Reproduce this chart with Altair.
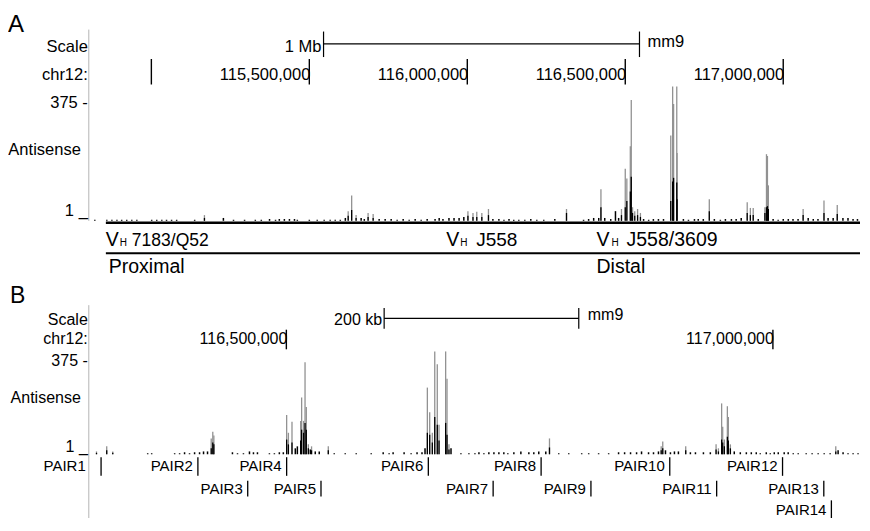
import altair as alt
import pandas as pd

# ------------------------------------------------------------------ data
# Panel A: chr12 114.80-117.24 Mb (mm9), antisense signal, 0-375 scale
a_peak_pos = [115.168, 115.623, 115.634, 115.648, 115.686, 115.702, 116.002, 116.018,
              116.030, 116.046, 116.067, 116.314, 116.423, 116.488, 116.500, 116.505,
              116.516, 116.519, 116.523, 116.530, 116.539, 116.548, 116.644, 116.650,
              116.653, 116.663, 116.664, 116.766, 116.886, 116.896, 116.905, 116.942,
              116.947, 116.950, 116.953, 117.063, 117.129, 117.171]
a_peak_max = [16, 27, 71, 16, 22, 19, 27, 22, 25, 22, 33, 33, 88, 33, 145, 118,
              208, 337, 38, 27, 33, 22, 238, 375, 326, 375, 189, 60, 52, 36, 36, 38,
              186, 181, 99, 33, 57, 44]
a_peak_mean = [8, 14, 30, 8, 11, 8, 14, 11, 11, 11, 16, 22, 38, 16, 38, 55,
               82, 123, 22, 14, 16, 11, 55, 110, 120, 107, 60, 27, 22, 16, 16, 22,
               38, 41, 33, 16, 22, 19]
a_noise_pos = [114.821, 114.859, 114.875, 114.891, 114.906, 114.922, 114.938, 114.954,
               115.001, 115.017, 115.033, 115.048, 115.064, 115.080, 115.137, 115.228,
               115.260, 115.295, 115.329, 115.348, 115.374, 115.393, 115.405, 115.421,
               115.437, 115.453, 115.462, 115.500, 115.525, 115.547, 115.566, 115.582,
               115.598, 115.614, 115.664, 115.674, 115.721, 115.740, 115.759, 115.778,
               115.797, 115.816, 115.835, 115.854, 115.873, 115.898, 115.911, 115.923,
               115.942, 115.958, 115.974, 115.989, 116.081, 116.100, 116.116, 116.132,
               116.147, 116.163, 116.182, 116.201, 116.220, 116.242, 116.277, 116.368,
               116.384, 116.400, 116.416, 116.435, 116.454, 116.469, 116.479, 116.558,
               116.574, 116.589, 116.605, 116.621, 116.684, 116.700, 116.719, 116.731,
               116.747, 116.782, 116.801, 116.817, 116.836, 116.851, 116.867, 116.921,
               116.968, 116.984, 117.000, 117.016, 117.031, 117.047, 117.079, 117.095,
               117.110, 117.142, 117.158, 117.189, 117.205, 117.221, 117.235]
a_noise_val = [3, 3, 3, 3, 3, 3, 3, 3,
               3, 3, 3, 3, 3, 3, 3, 8,
               3, 3, 3, 3, 5, 3, 5, 5,
               5, 5, 3, 3, 3, 3, 3, 3,
               3, 8, 8, 5, 5, 5, 5, 3,
               5, 3, 5, 3, 5, 5, 8, 5,
               8, 8, 8, 11, 5, 5, 3, 5,
               3, 3, 3, 5, 3, 3, 5, 3,
               5, 8, 8, 8, 5, 27, 8, 5,
               3, 5, 5, 5, 5, 3, 5, 5,
               5, 5, 3, 5, 5, 5, 8, 5,
               5, 3, 5, 5, 5, 5, 8, 5,
               5, 8, 8, 8, 8, 5, 5]
a_tick_pos = [115.0, 115.5, 116.0, 116.5, 117.0]
a_tick_lab = ["", "115,500,000", "116,000,000", "116,500,000", "117,000,000"]
a_scale_bar = [115.545, 116.545]
a_scale_lab = ["1 Mb", "mm9"]
a_region_pos = [114.856, 115.933, 116.409]
a_region_lab = ["7183/Q52", "J558", "J558/3609"]
a_arm_pos = [114.865, 116.409]
a_arm_lab = ["Proximal", "Distal"]
a_locus = [114.856, 117.243]

# Panel B: chr12 116.30-117.09 Mb
b_peak_pos = [116.3049, 116.3154, 116.3216, 116.4228, 116.4244, 116.4255, 116.5003, 116.5021,
              116.5058, 116.5147, 116.5157, 116.5177, 116.5192, 116.5205, 116.5226, 116.5259,
              116.5431, 116.6449, 116.6473, 116.6500, 116.6525, 116.6551, 116.6569, 116.6637,
              116.6651, 116.6671, 116.7704, 116.8852, 116.8868, 116.9104, 116.9416, 116.9440,
              116.9473, 116.9484, 116.9501, 116.9532, 116.9542, 116.9563, 117.0646]
b_peak_max = [10, 28, 10, 56, 80, 66, 139, 76,
              115, 118, 201, 118, 326, 167, 35, 28,
              28, 236, 149, 76, 364, 319, 104, 364,
              267, 35, 56, 28, 45, 28, 35, 21,
              180, 97, 52, 170, 132, 35, 28]
b_peak_mean = [5, 14, 5, 21, 42, 35, 52, 35,
               42, 49, 87, 76, 111, 87, 21, 14,
               14, 76, 69, 42, 132, 104, 49, 111,
               69, 17, 24, 14, 21, 14, 17, 10,
               52, 42, 28, 62, 49, 21, 10]
b_noise_pos = [116.3575, 116.3616, 116.3852, 116.3903, 116.3954, 116.4005, 116.4057, 116.4108,
               116.4149, 116.4190, 116.4446, 116.4498, 116.4559, 116.4621, 116.4662, 116.4703,
               116.4826, 116.4877, 116.4928, 116.4969, 116.5092, 116.5113, 116.5246, 116.5297,
               116.5338, 116.5492, 116.5605, 116.5718, 116.5872, 116.5995, 116.6056, 116.6097,
               116.6210, 116.6282, 116.6343, 116.6394, 116.6425, 116.6692, 116.6794, 116.6876,
               116.6938, 116.6979, 116.7030, 116.7081, 116.7133, 116.7184, 116.7235, 116.7276,
               116.7338, 116.7410, 116.7492, 116.7543, 116.7594, 116.7666, 116.7799, 116.7902,
               116.8035, 116.8107, 116.8209, 116.8312, 116.8414, 116.8476, 116.8537, 116.8599,
               116.8650, 116.8722, 116.8773, 116.8824, 116.8896, 116.8947, 116.8988, 116.9029,
               116.9152, 116.9204, 116.9286, 116.9357, 116.9603, 116.9665, 116.9727, 116.9778,
               116.9829, 116.9870, 116.9932, 116.9973, 117.0014, 117.0055, 117.0116, 117.0157,
               117.0209, 117.0260, 117.0342, 117.0403, 117.0465, 117.0527, 117.0588, 117.0670,
               117.0721, 117.0772, 117.0824, 117.0875]
b_noise_val = [3.5, 3.5, 3.5, 3.5, 7, 3.5, 7, 7,
               10, 10, 7, 3.5, 3.5, 10, 7, 7,
               3.5, 3.5, 7, 7, 21, 28, 17, 10,
               10, 3.5, 3.5, 3.5, 3.5, 7, 3.5, 7,
               7, 3.5, 7, 7, 21, 21, 3.5, 3.5,
               3.5, 7, 3.5, 7, 7, 7, 7, 3.5,
               7, 10, 7, 7, 10, 10, 3.5, 3.5,
               3.5, 3.5, 3.5, 3.5, 7, 7, 7, 7,
               10, 7, 7, 10, 14, 7, 10, 10,
               7, 7, 7, 7, 10, 7, 7, 7,
               7, 3.5, 7, 3.5, 7, 7, 7, 7,
               3.5, 3.5, 3.5, 3.5, 3.5, 3.5, 3.5, 14,
               7, 3.5, 3.5, 3.5]
b_tick_pos = [116.5, 117.0]
b_tick_lab = ["116,500,000", "117,000,000"]
b_scale_bar = [116.6005, 116.8005]
b_scale_lab = ["200 kb", "mm9"]
pair_names = ["PAIR1", "PAIR2", "PAIR3", "PAIR4", "PAIR5", "PAIR6", "PAIR7",
              "PAIR8", "PAIR9", "PAIR10", "PAIR11", "PAIR12", "PAIR13", "PAIR14"]
pair_pos = [116.3096, 116.4091, 116.4603, 116.5003, 116.5356, 116.6459, 116.7125,
            116.7618, 116.8130, 116.8940, 116.9422, 117.0099, 117.0523, 117.0601]
pair_row = [1, 1, 2, 1, 2, 1, 2, 1, 2, 1, 2, 1, 2, 3]

track_labels = ["Scale", "chr12:", "375 -", "Antisense", "1 _"]
panel_labels = ["A", "B"]

A_LEFT, A_RIGHT = 114.802, 117.243
B_LEFT, B_RIGHT = 116.297, 117.0895

# ------------------------------------------------------------------ layout
W, H = 852, 510
FONT = "Liberation Sans"
GRAY = "#929292"
BLACK = "#000000"
BORDER = "#b4b4b4"


def px(x):
    return round((x - 8) * W / 854, 2)


def py(y):
    return round((y - 10) * H / 520, 2)


one = pd.DataFrame({"k": [0]})


def xs_for(left, right):
    return alt.Scale(domain=[left, right], range=[px(89), px(862)], nice=False, zero=False)


def ys_for(top, base):
    return alt.Scale(domain=[0, 375], range=[py(base), py(top)], nice=False, zero=False)


def bars(pos, vals, xs, ys, color, width):
    df = pd.DataFrame({"g": pos, "v": vals})
    return alt.Chart(df).mark_rule(color=color, strokeWidth=width).encode(
        x=alt.X("g:Q", scale=xs, axis=None),
        y=alt.Y("v:Q", scale=ys, axis=None),
        y2=alt.datum(0),
    )


def gticks(pos, xs, y1, y2, width=1.3, color=BLACK):
    df = pd.DataFrame({"g": pos})
    return alt.Chart(df).mark_rule(color=color, strokeWidth=width).encode(
        x=alt.X("g:Q", scale=xs, axis=None),
        y=alt.value(py(y1)), y2=alt.value(py(y2)),
    )


def gspan(start, end, xs, y, width=1.2):
    df = pd.DataFrame({"g": [start], "g2": [end]})
    return alt.Chart(df).mark_rule(color=BLACK, strokeWidth=width).encode(
        x=alt.X("g:Q", scale=xs, axis=None), x2="g2:Q", y=alt.value(py(y)),
    )


def gtext(pos, texts, xs, ybase, size, align, dx=0):
    df = pd.DataFrame({"g": pos, "t": texts})
    return alt.Chart(df).mark_text(
        align=align, baseline="alphabetic", fontSize=size, font=FONT, dx=dx, color=BLACK
    ).encode(x=alt.X("g:Q", scale=xs, axis=None), y=alt.value(py(ybase)), text="t:N")


def label(text, xref, ybase, size, align="right"):
    df = pd.DataFrame({"t": [text]})
    return alt.Chart(df).mark_text(
        align=align, baseline="alphabetic", fontSize=size, font=FONT, color=BLACK
    ).encode(x=alt.value(px(xref)), y=alt.value(py(ybase)), text="t:N")


def vline(xref, y1, y2, color, width):
    return alt.Chart(one).mark_rule(color=color, strokeWidth=width).encode(
        x=alt.value(px(xref)), y=alt.value(py(y1)), y2=alt.value(py(y2))
    )


# ------------------------------------------------------------------ panel A
xa = xs_for(A_LEFT, A_RIGHT)
ya = ys_for(90, 227)
layers_a = [
    label(panel_labels[0], 8, 34, 24, "left"),
    vline(89, 32, 227, BORDER, 1),
    label(track_labels[0], 88, 55, 16.5),
    gspan(a_scale_bar[0], a_scale_bar[1], xa, 46.5, 1.2),
    gticks(a_scale_bar, xa, 34, 60, 1.2),
    gtext([a_scale_bar[0]], [a_scale_lab[0]], xa, 55, 16.5, "right", -2),
    gtext([a_scale_bar[1]], [a_scale_lab[1]], xa, 50, 16.5, "left", 8),
    label(track_labels[1], 88, 83, 16.5),
    gticks(a_tick_pos, xa, 62, 88, 1.4),
    gtext(a_tick_pos, a_tick_lab, xa, 83, 16.5, "right", 1),
    label(track_labels[2], 88, 112, 16.5),
    label(track_labels[3], 81, 160, 16.5),
    label(track_labels[4], 88, 222, 16.5),
    bars(a_peak_pos, a_peak_max, xa, ya, GRAY, 1.3),
    bars(a_peak_pos, a_peak_mean, xa, ya, BLACK, 1.3),
    bars(a_noise_pos, a_noise_val, xa, ya, BLACK, 1.5),
    gspan(a_locus[0], a_locus[1], xa, 229, 2.5),
    gtext(a_region_pos, ["V"] * 3, xa, 253, 19.5, "left"),
]
h_dx = [14, 14, 15]
t_dx = [26, 30, 30]
t_size = [17.5, 19, 19.5]
for i in range(3):
    layers_a.append(gtext([a_region_pos[i]], ["H"], xa, 253, 10, "left", h_dx[i]))
    layers_a.append(gtext([a_region_pos[i]], [a_region_lab[i]], xa, 253, t_size[i], "left", t_dx[i]))
layers_a += [
    gspan(a_locus[0], a_locus[1], xa, 260, 2),
    gtext(a_arm_pos, a_arm_lab, xa, 280, 19.5, "left"),
]
panel_a = alt.layer(*layers_a)

# ------------------------------------------------------------------ panel B
xb = xs_for(B_LEFT, B_RIGHT)
yb = ys_for(357, 465)
layers_b = [
    label(panel_labels[1], 10, 311, 23, "left"),
    vline(89, 313, 530, BORDER, 1),
    label(track_labels[0], 88, 333, 16),
    gspan(b_scale_bar[0], b_scale_bar[1], xb, 326.5, 1.2),
    gticks(b_scale_bar, xb, 316, 337, 1.2),
    gtext([b_scale_bar[0]], [b_scale_lab[0]], xb, 333, 16, "right", -2),
    gtext([b_scale_bar[1]], [b_scale_lab[1]], xb, 328, 16, "left", 9),
    label(track_labels[1], 88, 353, 16),
    gticks(b_tick_pos, xb, 338, 358, 1.4),
    gtext(b_tick_pos, b_tick_lab, xb, 353, 16, "right", 1),
    label(track_labels[2], 88, 375, 16),
    label(track_labels[3], 81, 413, 16),
    label(track_labels[4], 88, 463, 16),
    bars(b_peak_pos, b_peak_max, xb, yb, GRAY, 1.3),
    bars(b_peak_pos, b_peak_mean, xb, yb, BLACK, 1.3),
    bars(b_noise_pos, b_noise_val, xb, yb, BLACK, 1.5),
]
row_ranges = {1: (468, 487, 482), 2: (492, 508, 506), 3: (512, 530, 527)}
label_gap = 0.0051
for r, (y1, y2, yb_text) in row_ranges.items():
    pos = [p for p, rr in zip(pair_pos, pair_row) if rr == r]
    names = [n for n, rr in zip(pair_names, pair_row) if rr == r]
    anchors = [p - label_gap if p - B_LEFT > 0.02 else B_LEFT - 0.0031 for p in pos]
    layers_b.append(gticks(pos, xb, y1, y2, 1.3))
    layers_b.append(gtext(anchors, names, xb, yb_text, 15, "right"))
panel_b = alt.layer(*layers_b)

chart = (
    alt.layer(panel_a, panel_b)
    .resolve_scale(x="independent", y="independent")
    .properties(width=W, height=H, padding=0, autosize="none")
    .configure_view(stroke=None)
)

chart.save("out.html", embed_options={"renderer": "svg", "actions": False})
